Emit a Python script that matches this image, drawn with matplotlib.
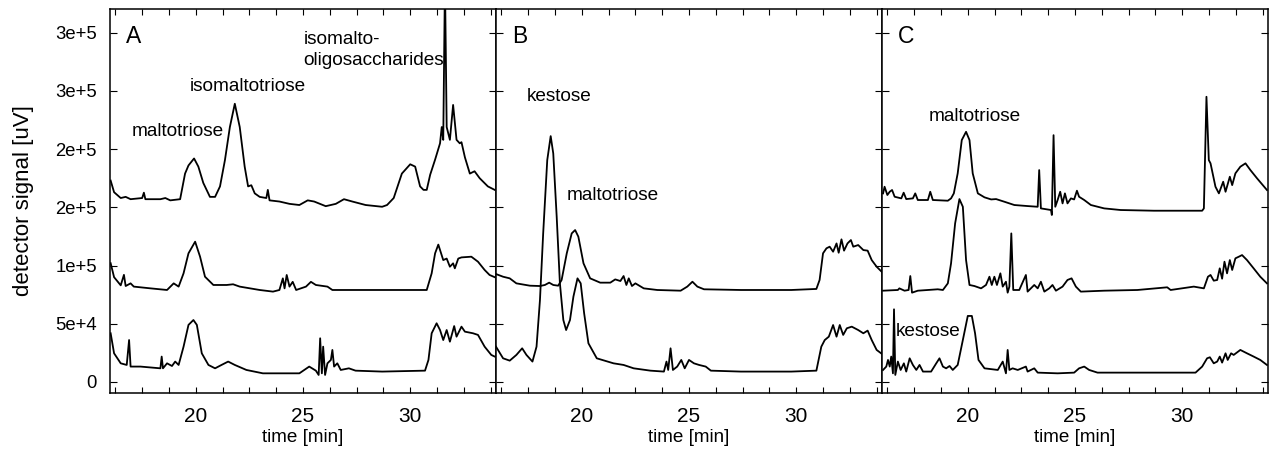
import numpy as np
import matplotlib
matplotlib.use("Agg")
import matplotlib.pyplot as plt
from matplotlib.ticker import MultipleLocator, FixedLocator, FixedFormatter

plt.rcParams["font.family"] = ["Liberation Sans", "DejaVu Sans"]

# signal values, in thousands of uV

# panel A
a_top_t = [16.03, 16.19, 16.5, 16.73, 16.96, 17.5, 17.58, 17.65, 18.35, 18.58, 18.81, 19.27,
           19.5, 19.66, 19.92, 20.12, 20.35, 20.66, 20.9, 21.13, 21.36, 21.59, 21.82, 22.05,
           22.28, 22.44, 22.59, 22.75, 22.98, 23.29, 23.36, 23.44, 23.9, 24.37, 24.83, 25.22,
           25.52, 26.06, 26.53, 26.91, 27.3, 27.92, 28.69, 28.92, 29.23, 29.61, 30.0, 30.23,
           30.46, 30.62, 30.77, 30.93, 31.16, 31.39, 31.47, 31.54, 31.62, 31.7, 31.85, 32.0,
           32.16, 32.31, 32.39, 32.55, 32.78, 33.0, 33.24, 33.62, 33.94]
a_top_s = [173, 163, 158, 159, 157, 158, 162.6, 157, 157, 158, 156, 157,
           179, 186, 192, 185, 171, 159, 159, 168, 190.6, 219, 239, 219,
           185, 168, 169, 162, 159, 158, 165, 156, 155, 153, 152, 156,
           155, 151, 153, 157, 155, 152, 150.5, 152, 158, 179, 187, 185,
           168, 165, 165, 178, 191, 205, 219, 208, 345, 219, 208, 238,
           208, 205, 206, 193, 179, 181, 175, 168, 165]

a_mid_t = [16.03, 16.19, 16.5, 16.65, 16.73, 16.96, 17.11, 17.89, 18.66, 18.97, 19.2, 19.43,
           19.66, 19.97, 20.2, 20.43, 20.82, 21.44, 21.74, 22.05, 22.98, 23.6, 23.9, 24.06,
           24.14, 24.24, 24.37, 24.52, 24.68, 25.14, 25.37, 25.6, 26.14, 26.37, 27.92, 29.46,
           30.77, 31.0, 31.16, 31.31, 31.54, 31.7, 31.85, 32.0, 32.08, 32.24, 32.39, 32.85,
           33.16, 33.47, 33.7, 33.94]
a_mid_s = [102, 90, 83, 92, 82.4, 84.7, 81.9, 80.4, 79, 84.7, 81.9, 93.3,
           110.5, 120.5, 107.6, 90.4, 83.3, 83.3, 83.9, 81.9, 79, 77.6, 79, 89,
           80.4, 91.9, 81.9, 86, 79, 81.9, 86, 83.3, 81.9, 79, 79, 79,
           79, 93.3, 110.5, 118, 104.7, 106, 99, 101.9, 97.6, 106, 107, 107.6,
           103.3, 96.2, 91.9, 90]

a_bot_t = [16.03, 16.19, 16.5, 16.78, 16.89, 16.96, 17.42, 18.35, 18.41, 18.47, 18.66, 18.89,
           19.04, 19.2, 19.43, 19.66, 19.89, 20.05, 20.28, 20.59, 20.9, 21.2, 21.51, 21.82,
           22.36, 23.13, 24.83, 25.29, 25.6, 25.73, 25.8, 25.88, 25.94, 26.03, 26.14, 26.3,
           26.37, 26.45, 26.6, 26.76, 27.14, 27.45, 28.69, 30.69, 30.85, 31.0, 31.23, 31.39,
           31.54, 31.7, 31.85, 32.05, 32.16, 32.39, 32.55, 32.93, 33.16, 33.47, 33.78, 33.94]
a_bot_s = [41.8, 24.6, 16, 14.6, 36, 13.2, 13.2, 11.7, 21.8, 11.7, 16, 13.7,
           17.5, 14.6, 30.3, 49, 53.2, 49, 24.6, 14.6, 11.7, 14.6, 17.5, 14.6,
           10.3, 7.4, 7.4, 13.2, 9.7, 6, 37.5, 7.4, 30.3, 6, 16, 18.9,
           27.5, 13.2, 16, 10.3, 11.7, 9.7, 8.9, 9.7, 18.9, 41.8, 50.4, 44.6,
           36, 44.6, 34.6, 48, 38.9, 47.5, 43.2, 41.8, 40.4, 30.3, 23.2, 21.8]

# panel B
b_top_t = [16.0, 16.33, 16.64, 16.95, 17.58, 18.05, 18.28, 18.48, 18.67, 18.9, 19.06, 19.3,
           19.53, 19.69, 19.84, 20.08, 20.39, 20.86, 21.33, 21.56, 21.8, 21.95, 22.08, 22.19,
           22.34, 22.5, 22.89, 23.52, 24.61, 24.92, 25.16, 25.39, 25.7, 27.42, 29.77, 30.94,
           31.09, 31.25, 31.41, 31.56, 31.72, 31.88, 31.98, 32.11, 32.23, 32.39, 32.55, 32.66,
           32.89, 33.13, 33.33, 33.52, 33.75, 34.06]
b_top_s = [92.7, 90.4, 89, 84.7, 82.7, 82.4, 83.3, 85.3, 83.3, 82.7, 87.6, 110.5,
           127.6, 130.5, 124.8, 101.9, 89, 85.3, 85.3, 88.1, 86.7, 91, 83.3, 89,
           82.4, 84.7, 80.4, 79, 78.4, 81.9, 86.1, 81.9, 79.6, 79, 79, 79.9,
           87.6, 110.5, 114.8, 116.2, 111.9, 119, 111, 122.5, 112.8, 119, 121.9, 116.2,
           117.6, 113.3, 112.8, 104.7, 99, 93.3]

b_bot_t = [16.0, 16.33, 16.64, 16.95, 17.22, 17.42, 17.7, 17.89, 18.05, 18.2, 18.39, 18.55,
           18.67, 18.83, 18.98, 19.14, 19.27, 19.45, 19.61, 19.8, 19.95, 20.11, 20.31, 20.7,
           21.48, 21.95, 22.42, 23.2, 23.83, 23.95, 24.03, 24.14, 24.25, 24.45, 24.64, 24.8,
           25.0, 25.23, 25.47, 25.78, 26.02, 27.42, 29.77, 30.94, 31.17, 31.33, 31.52, 31.72,
           31.88, 32.03, 32.19, 32.36, 32.59, 32.89, 33.13, 33.33, 33.52, 33.75, 34.06]
b_bot_s = [30.3, 20.3, 18.3, 23.2, 28.9, 23.2, 17.5, 30.3, 70.4, 127.6, 190.6, 211.2,
           196.3, 142, 84.7, 53.2, 44.6, 53.2, 73.3, 89, 84.7, 59, 33.2, 20.3,
           16, 14.6, 11.7, 9.7, 8.9, 17.5, 10.3, 28.9, 10.3, 13.2, 18.9, 11.7,
           18.9, 16, 14.6, 13.2, 9.7, 8.9, 8.9, 9.7, 30.3, 36, 38.9, 48.9,
           38.9, 48.9, 40.4, 46.1, 47.5, 44.6, 41.8, 44.1, 36, 27.5, 23.2]

# panel C
c_top_t = [16.05, 16.12, 16.25, 16.36, 16.47, 16.59, 16.9, 17.01, 17.13, 17.44, 17.55, 17.67,
           18.14, 18.25, 18.37, 19.07, 19.22, 19.35, 19.53, 19.72, 19.92, 20.08, 20.23, 20.47,
           20.78, 21.09, 21.32, 21.71, 22.17, 22.79, 23.26, 23.33, 23.41, 23.88, 23.92, 24.0,
           24.08, 24.19, 24.31, 24.42, 24.53, 24.65, 24.81, 24.96, 25.09, 25.19, 25.43, 25.74,
           26.36, 27.13, 28.68, 30.93, 31.01, 31.13, 31.24, 31.32, 31.55, 31.71, 31.91, 32.02,
           32.22, 32.33, 32.48, 32.71, 32.95, 33.18, 33.49, 33.95]
c_top_s = [162, 167.7, 160.6, 163.4, 164.9, 159.1, 157.7, 162.6, 157.1, 157.7, 162, 156.3,
           156.3, 163.4, 156.3, 155.7, 157.7, 162, 179.2, 207.8, 214.9, 207.8, 179.2, 162,
           158.6, 156.8, 157.1, 154.8, 152, 151.1, 150.5, 182, 149.1, 147.7, 143.4, 212,
           150.5, 156.3, 163.4, 153.4, 162, 153.4, 157.7, 156.8, 164.3, 159.1, 156.3, 152,
           149.1, 147.7, 147.1, 147.1, 149.1, 245, 190.6, 187.8, 167.7, 162, 172, 163.4,
           176.3, 169.1, 179.2, 184.9, 187.8, 182, 174.9, 164.9]

c_mid_t = [16.05, 16.74, 16.81, 17.05, 17.24, 17.32, 17.4, 17.67, 18.14, 18.6, 18.84, 19.07,
           19.22, 19.41, 19.61, 19.77, 19.92, 20.08, 20.31, 20.62, 20.85, 21.01, 21.12, 21.24,
           21.36, 21.52, 21.63, 21.78, 21.86, 21.94, 22.03, 22.12, 22.4, 22.71, 22.79, 23.1,
           23.26, 23.41, 23.57, 23.8, 23.95, 24.11, 24.42, 24.65, 24.84, 25.04, 25.27, 26.36,
           27.91, 29.3, 29.46, 30.54, 31.01, 31.2, 31.32, 31.47, 31.63, 31.75, 31.86, 31.97,
           32.09, 32.22, 32.33, 32.48, 32.64, 32.79, 33.02, 33.33, 33.64, 33.95]
c_mid_s = [78.4, 79, 80.4, 78.4, 79, 91, 76.7, 78.4, 79, 79.6, 79, 84.7,
           101.9, 136.2, 157.1, 150.5, 104.7, 83.3, 82.4, 80.4, 83.3, 90.4, 83.3, 90.4,
           83.3, 93.3, 81.9, 86.1, 76.7, 81.9, 127.6, 79, 79, 91.9, 77.6, 83.3,
           80.4, 86.1, 77.6, 80.4, 83.3, 78.4, 81.9, 87.6, 89, 81.9, 77.6, 78.4,
           79, 81.3, 79, 81.9, 80.4, 90.4, 91.9, 87, 87.6, 97.6, 88.7, 103.3,
           93.3, 104.7, 96.2, 106.2, 107.6, 109, 104.7, 97.6, 90.4, 84.7]

c_bot_t = [16.05, 16.2, 16.28, 16.36, 16.43, 16.51, 16.56, 16.62, 16.74, 16.87, 17.02, 17.13,
           17.29, 17.44, 17.6, 17.75, 17.91, 18.29, 18.53, 18.68, 18.84, 18.99, 19.15, 19.3,
           19.53, 19.77, 20.0, 20.19, 20.34, 20.5, 20.78, 21.4, 21.63, 21.78, 21.86, 21.94,
           22.09, 22.33, 22.71, 22.79, 23.1, 23.26, 24.19, 24.96, 25.19, 25.43, 25.66, 26.05,
           27.91, 30.62, 30.93, 31.16, 31.29, 31.47, 31.63, 31.75, 31.86, 32.02, 32.12, 32.28,
           32.4, 32.71, 33.02, 33.33, 33.64, 33.95]
c_bot_s = [10.3, 13.2, 18.9, 13.2, 21.8, 7.4, 62.4, 6, 17.5, 10.3, 16, 8.9,
           20.3, 14.6, 10.3, 14.6, 8.9, 8.9, 16, 20.3, 13.2, 11.7, 13.7, 10.3,
           14.6, 36, 56.7, 56.7, 41.8, 18.9, 11.7, 10.3, 17.5, 7.4, 27.5, 10.3,
           11.7, 10.3, 13.2, 8.9, 11.7, 8, 7.4, 8, 11.7, 13.2, 10.3, 8,
           8, 8, 13.2, 20.3, 21.2, 16, 17.5, 21.8, 16.6, 24.6, 18.9, 24.6,
           23.2, 27.5, 24.6, 21.8, 18.9, 14.6]

panel_names = ["A", "B", "C"]
y_tick_vals = [0, 50000, 100000, 150000, 200000, 250000, 300000]
y_tick_text = ["0", "5e+4", "1e+5", "2e+5", "2e+5", "3e+5", "3e+5"]

traces = [
    [(a_top_t, a_top_s), (a_mid_t, a_mid_s), (a_bot_t, a_bot_s)],
    [(b_top_t, b_top_s), (b_bot_t, b_bot_s)],
    [(c_top_t, c_top_s), (c_mid_t, c_mid_s), (c_bot_t, c_bot_s)],
]

# peak labels: (panel, text, time, signal in k uV)
peak_labels = [
    (0, "maltotriose", 17.0, 211),
    (0, "isomaltotriose", 19.74, 250),
    (0, "isomalto-", 25.03, 290),
    (0, "oligosaccharides", 25.03, 272),
    (1, "kestose", 17.45, 241),
    (1, "maltotriose", 19.29, 156),
    (2, "maltotriose", 18.2, 224),
    (2, "kestose", 16.65, 39.5),
]

fig = plt.figure(figsize=(12.75, 4.55), dpi=100)
W, H = 1275.0, 455.0
left_px = [110, 496, 882]
width_px = 386
bottom = 1 - 393 / H
height = (393 - 9) / H

axes = []
for i in range(3):
    ax = fig.add_axes([left_px[i] / W, bottom, width_px / W, height])
    axes.append(ax)
    for t, s in traces[i]:
        ax.plot(t, np.array(s) * 1e3, color="black", lw=1.3)
    ax.set_xlim(16, 34)
    ax.set_ylim(-9500, 320400)
    ax.xaxis.set_major_locator(MultipleLocator(5))
    ax.xaxis.set_minor_locator(MultipleLocator(1.25))
    ax.yaxis.set_major_locator(FixedLocator(y_tick_vals))
    ax.tick_params(axis="x", which="both", direction="in", top=True, bottom=True,
                   length=4, width=0.8, labelsize=15, pad=10)
    ax.tick_params(axis="y", which="both", direction="in", left=True, right=True,
                   length=5, width=0.8, labelsize=13.3, pad=9.5)
    for sp in ax.spines.values():
        sp.set_linewidth(1.1)
    if i == 0:
        ax.yaxis.set_major_formatter(FixedFormatter(y_tick_text))
        ax.set_ylabel("detector signal [uV]", fontsize=16)
        ax.yaxis.set_label_coords(-0.197, 0.5)
    else:
        ax.set_yticklabels([])
    ax.set_xlabel("time [min]", fontsize=13.6, labelpad=2)
    ax.text(16.75, 291000, panel_names[i], fontsize=16.5, va="baseline", ha="left")

for p, txt, t, s in peak_labels:
    axes[p].text(t, s * 1e3, txt, fontsize=13.7, va="baseline", ha="left")

fig.savefig("out.png", dpi=100)
